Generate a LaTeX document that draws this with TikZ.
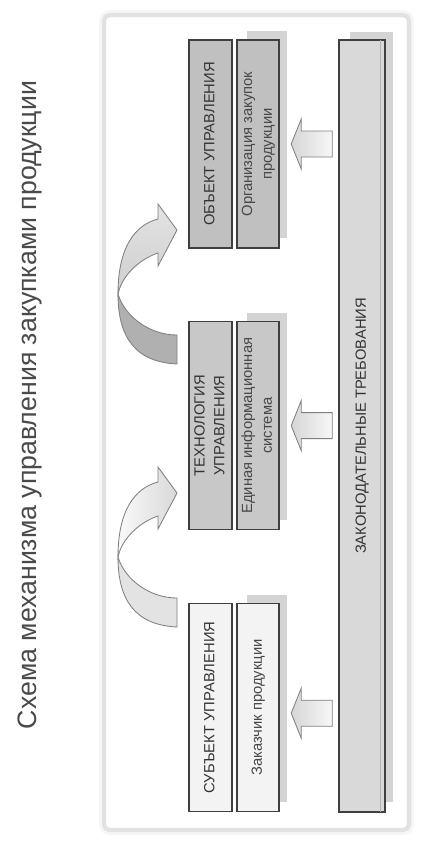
\documentclass[tikz,border=0pt]{standalone}
\usepackage{fontspec}
\setmainfont{Liberation Sans}
\usetikzlibrary{calc}
\definecolor{bg}{HTML}{FFFFFF}
\definecolor{ink}{HTML}{333333}
\definecolor{inklt}{HTML}{474747}
\definecolor{boxline}{HTML}{3F3F3F}
\definecolor{objfill}{HTML}{C0C0C0}
\definecolor{techfill}{HTML}{C8C8C8}
\definecolor{subjfill}{HTML}{F3F3F3}
\definecolor{lawfill}{HTML}{D9D9D9}
\definecolor{shdw}{HTML}{D4D4D4}
\definecolor{arrline}{HTML}{808080}
\definecolor{ttl}{HTML}{4A4A4A}
\definecolor{framecol}{HTML}{E2E2E2}

\newcommand{\vlab}[1]{\rotatebox{90}{\begin{tabular}{@{}c@{}}#1\end{tabular}}}

\begin{document}
\begin{tikzpicture}[x=1cm,y=1cm,font=\fontsize{10.5}{14}\selectfont,
  box/.style={draw=boxline,line width=1.1pt,inner sep=0pt,minimum width=1.075cm,minimum height=5.2cm,text=ink},
  lawbox/.style={draw=boxline,line width=1.1pt,fill=lawfill,inner sep=0pt,minimum width=1.15cm,minimum height=19.3cm,text=ink},
  pusharrow/.style={draw=arrline,line width=0.6pt,left color=gray!32,right color=gray!6},
  curl/.style={draw=arrline,line width=0.6pt}]
  \useasboundingbox (0,0) rectangle (10.6,-21.175);
  \fill[bg] (0,0) rectangle (10.6,-21.175);

  % ===== title =====
  \node[rotate=90,text=ttl,font=\fontsize{19}{22}\selectfont] (title) at (0.75,-10.125) {Схема механизма управления закупками продукции};

  % ===== frame =====
  \draw[gray!7,line width=7pt,rounded corners=4pt] (2.6,-0.375) rectangle (10.225,-20.75);
  \draw[framecol,line width=3pt,fill=white,rounded corners=4pt] (2.6,-0.375) rectangle (10.225,-20.75);

  % ===== shadows =====
  \fill[shdw] (6.175,-0.775) rectangle (7.175,-5.95);
  \fill[shdw] (6.175,-7.825) rectangle (7.175,-13.0);
  \fill[shdw] (6.175,-14.875) rectangle (7.175,-20.05);
  \fill[shdw] (8.75,-0.79) rectangle (9.83,-20.05);

  % ===== object of management =====
  \node[box,fill=objfill] (o1) at (5.2625,-3.6) {\vlab{ОБЪЕКТ УПРАВЛЕНИЯ}};
  \node[box,fill=objfill,minimum width=1.05cm,text=inklt] (o2) at (6.45,-3.6) {\vlab{Организация закупок\\продукции}};

  % ===== technology of management =====
  \node[box,fill=techfill] (t1) at (5.2625,-10.64) {\vlab{ТЕХНОЛОГИЯ\\УПРАВЛЕНИЯ}};
  \node[box,fill=techfill,minimum width=1.05cm,text=inklt] (t2) at (6.45,-10.64) {\vlab{Единая информационная\\система}};

  % ===== subject of management =====
  \node[box,fill=subjfill] (s1) at (5.2625,-17.69) {\vlab{СУБЪЕКТ УПРАВЛЕНИЯ}};
  \node[box,fill=subjfill,minimum width=1.05cm,text=inklt] (s2) at (6.45,-17.69) {\vlab{Заказчик продукции}};

  % ===== legal requirements =====
  \node[lawbox] (law) at (9.05,-10.65) {\vlab{ЗАКОНОДАТЕЛЬНЫЕ ТРЕБОВАНИЯ}};
  \draw[gray!60,line width=0.5pt] ($(law.north east)+(-0.13,-0.03)$) -- ($(law.south east)+(-0.13,0.03)$);

  % block arrows from the law bar
  \draw[pusharrow] ($(law.west |- o2.east)+(-0.15,0.325)$) -- ++(-0.775,0) -- ++(0,0.3) -- ++(-0.25,-0.625) -- ++(0.25,-0.625) -- ++(0,0.3) -- ++(0.775,0) -- cycle;
  \draw[pusharrow] ($(law.west |- t2.east)+(-0.15,0.325)$) -- ++(-0.775,0) -- ++(0,0.3) -- ++(-0.25,-0.625) -- ++(0.25,-0.625) -- ++(0,0.3) -- ++(0.775,0) -- cycle;
  \draw[pusharrow] ($(law.west |- s2.east)+(-0.15,0.185)$) -- ++(-0.775,0) -- ++(0,0.3) -- ++(-0.25,-0.625) -- ++(0.25,-0.625) -- ++(0,0.3) -- ++(0.775,0) -- cycle;

  % ===== curved arrows (subject -> technology -> object) =====
  \coordinate (bendA) at (4.425,-5.75);
  \coordinate (bendB) at (4.425,-12.325);
  \begin{scope}[shift={(bendA)}]
    \draw[curl,fill=gray!62] (-1.475,-1.6) .. controls (-1.3,-2.175) and (-0.675,-2.625) .. (0,-2.625) -- (0,-3.35) .. controls (-1.05,-3.3) and (-1.475,-2.675) .. (-1.475,-1.6) -- cycle;
    \draw[curl,top color=gray!22,bottom color=gray!38] (-1.475,-1.6) .. controls (-1.475,-0.425) and (-1.05,0.125) .. (-0.475,0.275) -- (-0.475,0.65) -- (0,0) -- (-0.475,-0.9) -- (-0.475,-0.575) .. controls (-0.925,-0.725) and (-1.375,-1.125) .. (-1.475,-1.6) -- cycle;
  \end{scope}
  \begin{scope}[shift={(bendB)}]
    \draw[curl,fill=gray!22] (-1.475,-1.6) .. controls (-1.3,-2.175) and (-0.675,-2.625) .. (0,-2.625) -- (0,-3.35) .. controls (-1.05,-3.3) and (-1.475,-2.675) .. (-1.475,-1.6) -- cycle;
    \draw[curl,left color=gray!4,right color=gray!30] (-1.475,-1.6) .. controls (-1.475,-0.425) and (-1.05,0.125) .. (-0.475,0.275) -- (-0.475,0.65) -- (0,0) -- (-0.475,-0.9) -- (-0.475,-0.575) .. controls (-0.925,-0.725) and (-1.375,-1.125) .. (-1.475,-1.6) -- cycle;
  \end{scope}
\end{tikzpicture}
\end{document}
